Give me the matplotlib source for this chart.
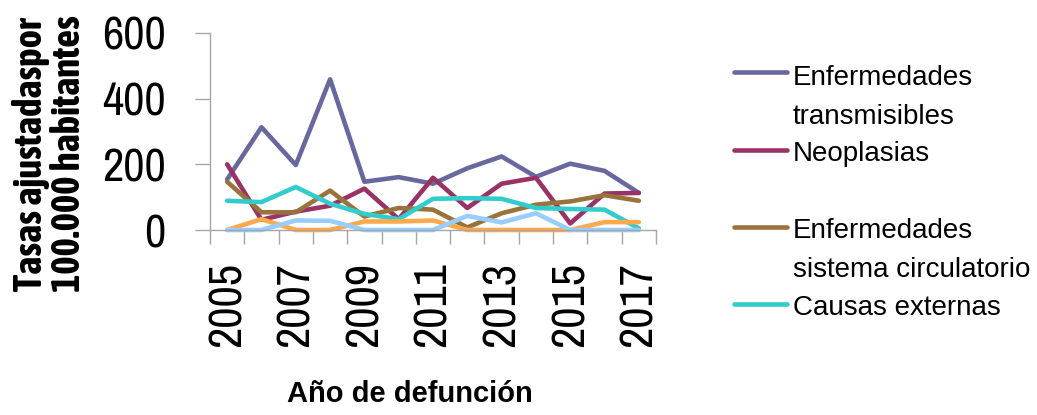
import matplotlib
matplotlib.use("Agg")
import matplotlib.pyplot as plt
from matplotlib.lines import Line2D
from matplotlib import font_manager
from matplotlib.ticker import FixedLocator

years = [2005, 2006, 2007, 2008, 2009, 2010, 2011, 2012, 2013, 2014, 2015, 2016, 2017]
transmisibles = [154, 313, 198, 459, 147, 161, 141, 188, 224, 162, 202, 180, 113]
neoplasias = [200, 31, 56, 74, 126, 33, 159, 67, 141, 159, 20, 111, 113]
circulatorio = [147, 54, 54, 120, 41, 67, 62, 8, 51, 77, 87, 106, 89]
externas = [89, 85, 131, 80, 49, 33, 95, 97, 95, 67, 64, 62, 5]
serie5 = [0, 33, 0, 0, 26, 26, 29, 0, 0, 0, 0, 24, 24]
serie6 = [0, 0, 29, 28, 0, 0, 0, 43, 23, 51, 0, 0, 0]
xtick_labels = ['2005', '2007', '2009', '2011', '2013', '2015', '2017']
yticks = [0, 200, 400, 600]

series = [
    ("Enfermedades\ntransmisibles", transmisibles, "#68689E"),
    ("Neoplasias", neoplasias, "#993366"),
    ("Enfermedades\nsistema circulatorio", circulatorio, "#98743C"),
    ("Causas externas", externas, "#33CCCC"),
    (None, serie5, "#FFA94D"),
    (None, serie6, "#99CCFF"),
]


def _w(v):
    if isinstance(v, str):
        return font_manager.weight_dict.get(v, 400)
    return v


# look for condensed sans fonts (the reference axis text is condensed)
reg_cond, bold_cond = None, None
for f in font_manager.fontManager.ttflist:
    nm = f.name
    if ('Narrow' in nm or 'Condensed' in nm) and 'Mono' not in nm and 'Serif' not in nm:
        w = _w(f.weight)
        if 380 <= w <= 500 and reg_cond is None:
            reg_cond = nm
        if w >= 600 and bold_cond is None:
            bold_cond = nm

if reg_cond is not None:
    tickfont = [reg_cond, 'Liberation Sans', 'DejaVu Sans']
    tick_fs = 33.5
else:
    tickfont = ['Liberation Sans', 'DejaVu Sans']
    tick_fs = 30
if bold_cond is not None:
    ylabfont = [bold_cond, 'Liberation Sans', 'DejaVu Sans']
    ylab_fs = 28
else:
    ylabfont = ['Liberation Sans', 'DejaVu Sans']
    ylab_fs = 22
regfont = ['Liberation Sans', 'DejaVu Sans']

W, H = 1037, 415
fig = plt.figure(figsize=(W / 100, H / 100), dpi=100)
ax = fig.add_axes([210 / W, 1 - 230 / H, (656 - 210) / W, (230 - 33) / H])

LW = 3.3
for label, vals, color in series:
    ax.plot(years, vals, color=color, lw=LW, solid_joinstyle='round',
            solid_capstyle='round', clip_on=False)

ax.set_xlim(2004.5, 2017.5)
ax.set_ylim(0, 600)
ax.set_yticks(yticks)
ax.set_yticklabels([str(v) for v in yticks], fontfamily=tickfont, fontsize=tick_fs)
ax.xaxis.set_major_locator(FixedLocator([int(t) for t in xtick_labels]))
ax.set_xticklabels(xtick_labels, rotation=90, fontfamily=tickfont, fontsize=tick_fs)
ax.xaxis.set_minor_locator(FixedLocator([y - 0.5 for y in years] + [years[-1] + 0.5]))

gray = '#A6A6A6'
for s in ['top', 'right']:
    ax.spines[s].set_visible(False)
for s in ['left', 'bottom']:
    ax.spines[s].set_color(gray)
    ax.spines[s].set_linewidth(1.0)
ax.tick_params(axis='y', which='major', length=10.8, width=1.0, color=gray, pad=21)
ax.tick_params(axis='x', which='major', length=0, pad=23)
ax.tick_params(axis='x', which='minor', length=10.3, width=1.0, color=gray)

# axis titles
fig.text(410 / W, 1 - 402 / H, "Año de defunción", ha='center', va='baseline',
         fontfamily=regfont, fontsize=21, fontweight='bold')
fig.text(50 / W, 1 - 154 / H, "Tasas ajustadaspor\n100.000 habitantes", rotation=90,
         ha='center', va='center', multialignment='center', linespacing=1.0,
         fontfamily=ylabfont, fontsize=ylab_fs, fontweight='bold')

# legend (first four series)
leg_rows = [(72, [(85, "Enfermedades"), (124, "transmisibles")]),
            (150, [(161, "Neoplasias")]),
            (227, [(238, "Enfermedades"), (277, "sistema circulatorio")]),
            (304, [(315, "Causas externas")])]
for (label, vals, color), (my, lines) in zip(series[:4], leg_rows):
    fig.add_artist(Line2D([734 / W, 787 / W], [1 - my / H, 1 - my / H], color=color,
                          lw=LW, solid_capstyle='round', transform=fig.transFigure))
    for by, txt in lines:
        fig.text(793 / W, 1 - by / H, txt, ha='left', va='baseline',
                 fontfamily=regfont, fontsize=20)

fig.savefig("out.png", dpi=100)
